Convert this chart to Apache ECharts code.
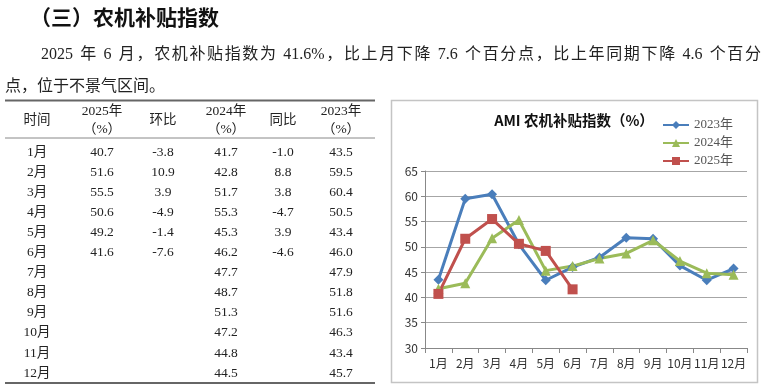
<!DOCTYPE html>
<html><head><meta charset="utf-8">
<script src="https://cdn.jsdelivr.net/npm/echarts@6/dist/echarts.min.js"></script>
<style>html,body{margin:0;padding:0;background:#fff;}#c{width:769px;height:387px;}</style>
</head><body><div id="c"></div>
<script>
var months = ['1月','2月','3月','4月','5月','6月','7月','8月','9月','10月','11月','12月'];
var v2025 = [40.7, 51.6, 55.5, 50.6, 49.2, 41.6];
var huanbi = ['-3.8','10.9','3.9','-4.9','-1.4','-7.6'];
var v2024 = [41.7, 42.8, 51.7, 55.3, 45.3, 46.2, 47.7, 48.7, 51.3, 47.2, 44.8, 44.5];
var tongbi = ['-1.0','8.8','3.8','-4.7','3.9','-4.6'];
var v2023 = [43.5, 59.5, 60.4, 50.5, 43.4, 46.0, 47.9, 51.8, 51.6, 46.3, 43.4, 45.7];
var yTicks = [30, 35, 40, 45, 50, 55, 60, 65];
var headers = [['时间'], ['2025年','（%）'], ['环比'], ['2024年','（%）'], ['同比'], ['2023年','（%）']];
var chartTitle = 'AMI 农机补贴指数（%）';
var heading = '（三）农机补贴指数';
var para1 = '2025 年 6 月，农机补贴指数为 41.6%，比上月下降 7.6 个百分点，比上年同期下降 4.6 个百分';
var para2 = '点，位于不景气区间。';

var serif = '"Liberation Serif", "Noto Sans CJK SC", serif';
var sans = '"Noto Sans CJK SC", "Liberation Sans", sans-serif';
var colX = [37, 102, 163, 226, 283, 341];
var g = [];
function txt(x, y, s, size, opt) {
  opt = opt || {};
  g.push({type:'text', x:x, y:y, silent:true, style:{text:s, fill:opt.fill||'#222', font:(opt.weight||'normal')+' '+size+'px '+(opt.family||serif), textAlign:opt.align||'center', textVerticalAlign:'middle'}});
}
function line(x1,y1,x2,y2,w,c){ g.push({type:'line', silent:true, shape:{x1:x1,y1:y1,x2:x2,y2:y2}, style:{stroke:c, lineWidth:w}}); }
// justified line: spread gaps (not inside ASCII words) between x0 and x1
function justify(s, x0, x1, y, size) {
  var ctx = document.createElement('canvas').getContext('2d');
  ctx.font = size + 'px ' + serif;
  var chars = Array.from(s);
  var isAsc = function(c){ return /[0-9A-Za-z.%\-]/.test(c); };
  var widths = chars.map(function(ch){ return ctx.measureText(ch).width; });
  var total = widths.reduce(function(a,b){return a+b;}, 0);
  var gaps = [];
  var nGaps = 0;
  for (var i = 0; i < chars.length - 1; i++) {
    var gp = !(isAsc(chars[i]) && isAsc(chars[i+1]));
    gaps.push(gp); if (gp) nGaps++;
  }
  var extra = (x1 - x0 - total) / nGaps;
  var x = x0;
  chars.forEach(function(ch, i){
    if (ch !== ' ') txt(x, y, ch, size, {align:'left'});
    x += widths[i] + (gaps[i] ? extra : 0);
  });
}

txt(30, 17, heading, 21, {align:'left', weight:'bold', family:sans, fill:'#111'});
justify(para1, 41, 761, 55, 16);
txt(5, 87, para2, 16, {align:'left'});
// table
line(5, 100.5, 375, 100.5, 2, '#666');
line(5, 138, 375, 138, 1, '#888');
line(5, 383, 375, 383, 2, '#666');
headers.forEach(function(h, i){
  if (h.length === 1) txt(colX[i], 120, h[0], 13.5);
  else { txt(colX[i], 111, h[0], 13.5); txt(colX[i], 129, h[1], 13.5); }
});
months.forEach(function(m, r){
  var y = 152 + r * 20.1;
  txt(colX[0], y, m, 13.5);
  if (r < v2025.length) txt(colX[1], y, v2025[r].toFixed(1), 13.5);
  if (r < huanbi.length) txt(colX[2], y, huanbi[r], 13.5);
  txt(colX[3], y, v2024[r].toFixed(1), 13.5);
  if (r < tongbi.length) txt(colX[4], y, tongbi[r], 13.5);
  txt(colX[5], y, v2023[r].toFixed(1), 13.5);
});
// chart frame
g.push({type:'rect', silent:true, shape:{x:391.5, y:100.5, width:366, height:282}, style:{fill:'none', stroke:'#c4c4c4', lineWidth:1.5}});
txt(574, 120, chartTitle, 14.5, {weight:'bold', family:sans, fill:'#111'});

var chart = echarts.init(document.getElementById('c'));
chart.setOption({
  animation:false,
  graphic:g,
  legend:{orient:'vertical', left:662, top:118, padding:0, itemWidth:26, itemHeight:10, itemGap:4,
    textStyle:{fontFamily:serif, fontSize:13, color:'#555', lineHeight:14},
    data:['2023年','2024年','2025年']},
  grid:{left:425, right:22, top:171, bottom:39},
  xAxis:{type:'category', data:months, boundaryGap:true,
    axisLine:{lineStyle:{color:'#888'}}, axisTick:{show:true, alignWithLabel:false, length:5, lineStyle:{color:'#888'}},
    axisLabel:{interval:0, hideOverlap:false, fontFamily:sans, fontSize:12, color:'#333', margin:9}},
  yAxis:{type:'value', min:30, max:65, interval:5,
    axisLine:{show:true, lineStyle:{color:'#888'}}, axisTick:{show:true, length:4, lineStyle:{color:'#888'}},
    splitLine:{lineStyle:{color:'#a6a6a6'}},
    axisLabel:{fontFamily:sans, fontSize:12, color:'#333', margin:7}},
  series:[
    {name:'2023年', type:'line', data:v2023, symbol:'diamond', symbolSize:10, color:'#4A7EBB', lineStyle:{width:3}},
    {name:'2024年', type:'line', data:v2024, symbol:'triangle', symbolSize:10, color:'#9BBB59', lineStyle:{width:3}},
    {name:'2025年', type:'line', data:v2025, symbol:'rect', symbolSize:10, color:'#C0504D', lineStyle:{width:3}}
  ]
});
</script></body></html>
